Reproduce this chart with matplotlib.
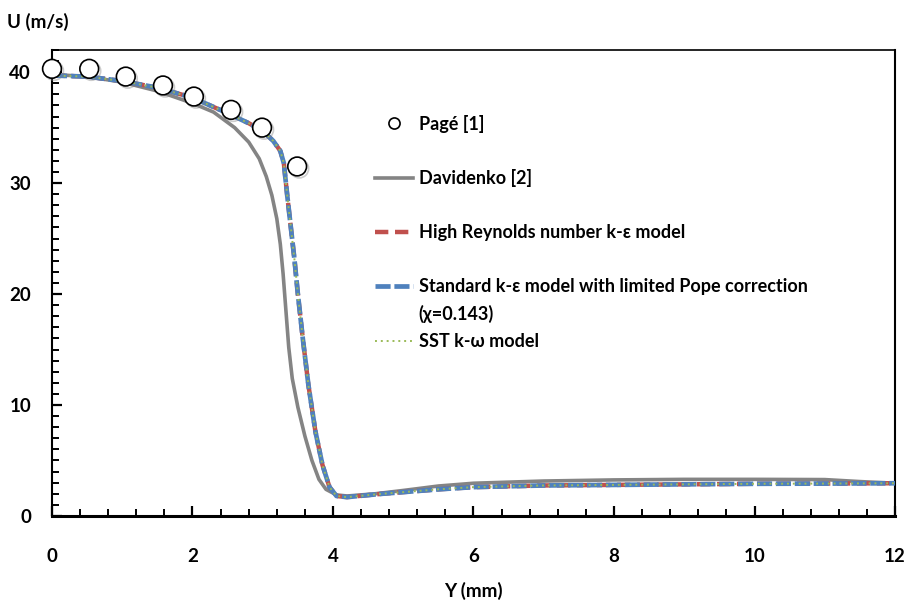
import matplotlib
matplotlib.use("Agg")
import matplotlib.pyplot as plt
from matplotlib.lines import Line2D
from matplotlib.ticker import MultipleLocator
import matplotlib.patheffects as pe

plt.rcParams['font.family'] = ['Lato', 'DejaVu Sans']

# Pagé [1] measurements
page_y = [0.0, 0.53, 1.05, 1.58, 2.02, 2.55, 2.99, 3.49]
page_u = [40.3, 40.3, 39.6, 38.8, 37.8, 36.6, 35.0, 31.5]

# Davidenko [2]
dav_y = [0.0, 0.5, 1.0, 1.5, 2.0, 2.3, 2.6, 2.8, 2.95, 3.05, 3.13, 3.2, 3.25, 3.29, 3.33,
         3.37, 3.42, 3.5, 3.6, 3.7, 3.8, 3.9, 4.05, 4.2, 4.6, 5.0, 5.5, 6.0, 7.0, 8.0,
         9.0, 10.0, 11.0, 11.5, 12.0]
dav_u = [39.8, 39.6, 39.1, 38.3, 37.2, 36.4, 35.0, 33.7, 32.2, 30.6, 28.9, 26.8, 24.5, 21.8, 18.5,
         15.2, 12.4, 9.8, 7.2, 5.0, 3.3, 2.4, 1.9, 1.8, 2.0, 2.3, 2.7, 2.95, 3.15, 3.25,
         3.3, 3.3, 3.28, 3.1, 2.95]

# CFD models (practically superimposed)
cfd_y = [0.0, 0.5, 1.0, 1.5, 2.0, 2.5, 2.8, 3.0, 3.15, 3.25, 3.3, 3.35, 3.4, 3.45,
         3.5, 3.57, 3.65, 3.75, 3.85, 3.95, 4.05, 4.2, 4.7, 5.5, 6.0, 7.0, 8.0, 9.0,
         10.0, 11.0, 12.0]
hre_u = [39.7, 39.6, 39.2, 38.6, 37.7, 36.3, 35.4, 34.7, 33.8, 32.9, 31.8, 28.8, 26.0, 23.2,
         20.0, 16.0, 11.8, 7.6, 4.6, 2.6, 1.8, 1.7, 2.0, 2.4, 2.6, 2.75, 2.8, 2.85,
         2.9, 2.92, 2.95]
pope_u = hre_u
sst_u = hre_u

fig, ax = plt.subplots(figsize=(9.09, 6.02), dpi=100)
fig.subplots_adjust(left=0.0572, right=0.9846, bottom=0.1429, top=0.917)

ax.plot(dav_y, dav_u, color='#848484', lw=2.6, solid_capstyle='round', zorder=2)
ax.plot(cfd_y, hre_u, color='#C0504D', lw=3.2, dashes=(3, 1.5), zorder=3)
ax.plot(cfd_y, pope_u, color='#4F81BD', lw=3.4, dashes=(3.2, 0.8), zorder=4)
ax.plot(cfd_y, sst_u, color='#9BBB59', lw=1.4, dashes=(1, 2), zorder=5)
ax.plot(page_y, page_u, 'o', ms=13.5, mfc='white', mec='black', mew=1.2, zorder=6,
        clip_on=False,
        path_effects=[pe.SimpleLineShadow(offset=(1.5, -1.5), shadow_color='gray', alpha=0.4),
                      pe.Normal()])

ax.set_xlim(0, 12)
ax.set_ylim(0, 42)
ax.xaxis.set_major_locator(MultipleLocator(2))
ax.yaxis.set_major_locator(MultipleLocator(10))
ax.xaxis.set_minor_locator(MultipleLocator(0.4))
ax.yaxis.set_minor_locator(MultipleLocator(1))
ax.tick_params(which='major', direction='in', length=7, width=1.6, color='black',
               labelsize=13.5)
ax.tick_params(which='minor', direction='in', length=5, width=1.4, color='black')
ax.tick_params(axis='x', which='major', pad=23)
ax.tick_params(axis='y', which='major', pad=15)
for lab in ax.get_xticklabels() + ax.get_yticklabels():
    lab.set_fontweight('bold')

for s in ['left', 'right']:
    ax.spines[s].set_linewidth(1.5)
ax.spines['top'].set_linewidth(1.2)
ax.spines['bottom'].set_linewidth(2.2)

ax.set_xlabel('Y (mm)', fontsize=13.5, fontweight='bold', labelpad=12)
fig.text(0.008, 0.963, 'U (m/s)', fontsize=13.5, fontweight='bold', va='center', ha='left')

blank = Line2D([], [], linestyle='none')
handles = [
    Line2D([], [], linestyle='none', marker='o', ms=8, mfc='white', mec='black', mew=1.2),
    blank,
    Line2D([], [], color='#848484', lw=2.6),
    blank,
    Line2D([], [], color='#C0504D', lw=3.2, dashes=(3, 1.5)),
    blank,
    Line2D([], [], color='#4F81BD', lw=3.4, dashes=(3.2, 0.8)),
    blank,
    Line2D([], [], color='#9BBB59', lw=1.4, dashes=(1, 2)),
]
labels = ['Pagé [1]', ' ', 'Davidenko [2]', ' ', 'High Reynolds number k-ε model', ' ',
          'Standard k-ε model with limited Pope correction', '(χ=0.143)', 'SST k-ω model']
ax.legend(handles, labels, loc='upper left', bbox_to_anchor=(0.375, 0.877), frameon=False,
          prop={'size': 13, 'weight': 'bold'}, handlelength=2.1, handletextpad=0.3,
          labelspacing=0.55, borderaxespad=0)

fig.savefig('out.png', dpi=100)
